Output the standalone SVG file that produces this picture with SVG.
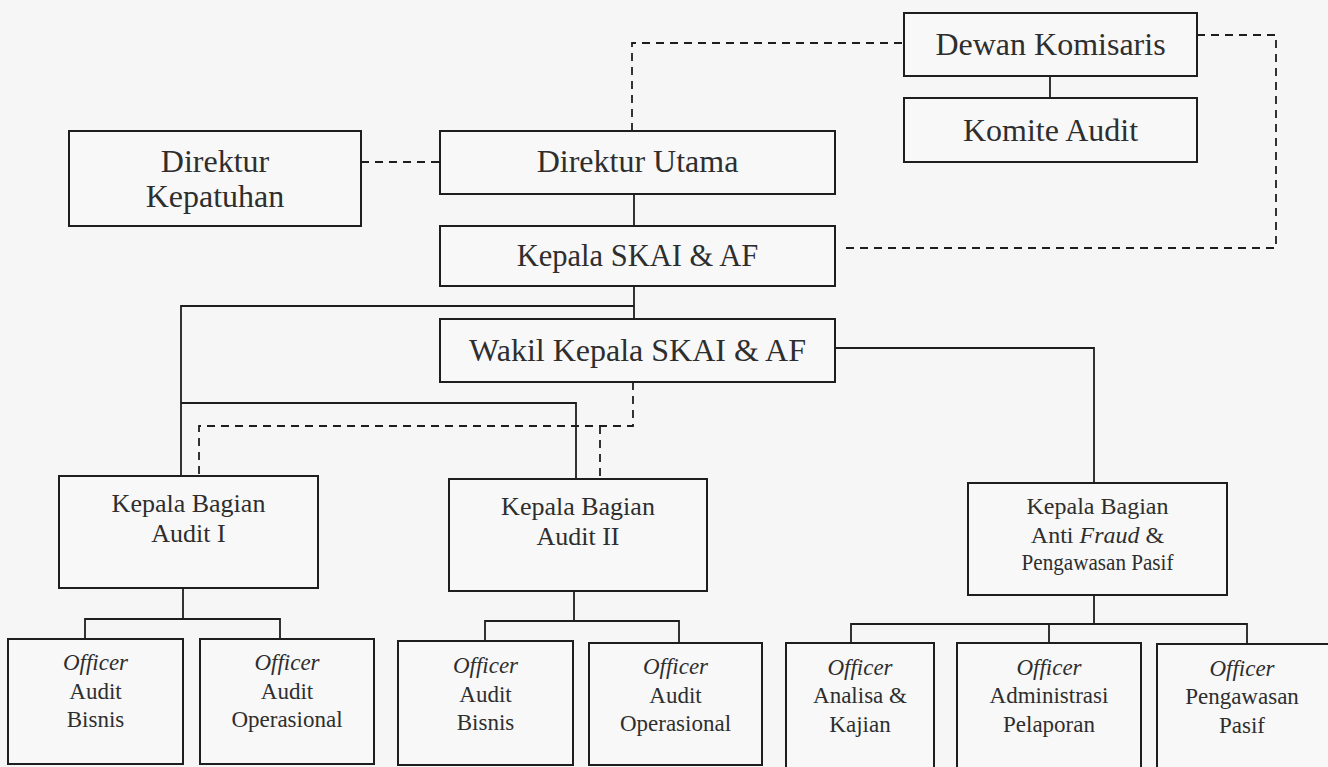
<svg xmlns="http://www.w3.org/2000/svg" width="1328" height="767" viewBox="0 0 1328 767" font-family="'Liberation Serif', 'DejaVu Serif', serif">
<style>
.bg{fill:#f6f6f6}
.box{fill:#f8f8f8;stroke:#1e1e1e;stroke-width:2}
.ln{fill:none;stroke:#1e1e1e;stroke-width:1.8}
.dl{fill:none;stroke:#1e1e1e;stroke-width:1.8;stroke-dasharray:8 6}
text{font-family:"Liberation Serif","DejaVu Serif",serif;fill:#2e2e2e;text-anchor:middle}
.t1{font-size:32px}
.t2{font-size:26px}
.t3{font-size:24px}
.t4{font-size:23px}
.it{font-style:italic}
</style>
<rect class="bg" x="0" y="0" width="1328" height="767"/>
<g id="connectors">
<line class="ln" x1="1050" y1="76" x2="1050" y2="98"/>
<line class="ln" x1="634" y1="194" x2="634" y2="226"/>
<line class="ln" x1="634" y1="286" x2="634" y2="319"/>
<polyline class="ln" points="634,306 181,306 181,476"/>
<polyline class="ln" points="181,403 576,403 576,479"/>
<polyline class="ln" points="835,348 1094,348 1094,483"/>
<line class="ln" x1="183" y1="588" x2="183" y2="619"/>
<polyline class="ln" points="85,639 85,619 280,619 280,639"/>
<line class="ln" x1="574" y1="591" x2="574" y2="621"/>
<polyline class="ln" points="485,641 485,621 679,621 679,643"/>
<line class="ln" x1="1094" y1="595" x2="1094" y2="624"/>
<polyline class="ln" points="851,643 851,624 1247,624 1247,644"/>
<line class="ln" x1="1049" y1="624" x2="1049" y2="643"/>
<line class="dl" x1="361" y1="162" x2="440" y2="162"/>
<polyline class="dl" points="632,131 632,43 904,43"/>
<polyline class="dl" points="1197,35 1276,35 1276,248 840,248"/>
<polyline class="dl" points="633,382 633,426 199,426 199,476"/>
<line class="dl" x1="600" y1="426" x2="600" y2="479"/>
</g>
<g id="dewan-komisaris"><rect class="box" x="904" y="13" width="293" height="63"/><text class="t1" x="1050.5" y="55">Dewan Komisaris</text></g>
<g id="komite-audit"><rect class="box" x="904" y="98" width="293" height="64"/><text class="t1" x="1050.5" y="141">Komite Audit</text></g>
<g id="direktur-kepatuhan"><rect class="box" x="69" y="131" width="292" height="95"/><text class="t1" x="215" y="172">Direktur</text><text class="t1" x="215" y="207">Kepatuhan</text></g>
<g id="direktur-utama"><rect class="box" x="440" y="131" width="395" height="63"/><text class="t1" x="637.5" y="172">Direktur Utama</text></g>
<g id="kepala-skai"><rect class="box" x="440" y="226" width="395" height="60"/><text class="t1" x="637.5" y="266" style="font-size:30.5px">Kepala SKAI &amp; AF</text></g>
<g id="wakil-kepala-skai"><rect class="box" x="440" y="319" width="395" height="63"/><text class="t1" x="637.5" y="361">Wakil Kepala SKAI &amp; AF</text></g>
<g id="kabag-audit-1"><rect class="box" x="59" y="476" width="259" height="112"/><text class="t2" x="188.5" y="512">Kepala Bagian</text><text class="t2" x="188.5" y="542">Audit I</text></g>
<g id="kabag-audit-2"><rect class="box" x="449" y="479" width="258" height="112"/><text class="t2" x="578" y="515">Kepala Bagian</text><text class="t2" x="578" y="545">Audit II</text></g>
<g id="kabag-anti-fraud"><rect class="box" x="968" y="483" width="259" height="112"/><text class="t3" x="1097.5" y="514">Kepala Bagian</text><text class="t3" x="1097.5" y="543">Anti <tspan class="it">Fraud</tspan> &amp;</text><text class="t3" x="1097.5" y="570" textLength="152" lengthAdjust="spacingAndGlyphs">Pengawasan Pasif</text></g>
<g id="officer-audit-bisnis-1"><rect class="box" x="8" y="639" width="175" height="125"/><text class="t4 it" x="95.5" y="670">Officer</text><text class="t4" x="95.5" y="699">Audit</text><text class="t4" x="95.5" y="727">Bisnis</text></g>
<g id="officer-audit-operasional-1"><rect class="box" x="200" y="639" width="174" height="125"/><text class="t4 it" x="287" y="670">Officer</text><text class="t4" x="287" y="699">Audit</text><text class="t4" x="287" y="727">Operasional</text></g>
<g id="officer-audit-bisnis-2"><rect class="box" x="398" y="641" width="175" height="124"/><text class="t4 it" x="485.5" y="673">Officer</text><text class="t4" x="485.5" y="702">Audit</text><text class="t4" x="485.5" y="730">Bisnis</text></g>
<g id="officer-audit-operasional-2"><rect class="box" x="589" y="643" width="173" height="122"/><text class="t4 it" x="675.5" y="674">Officer</text><text class="t4" x="675.5" y="703">Audit</text><text class="t4" x="675.5" y="731">Operasional</text></g>
<g id="officer-analisa-kajian"><rect class="box" x="786" y="643" width="148" height="130"/><text class="t4 it" x="860" y="675">Officer</text><text class="t4" x="860" y="703">Analisa &amp;</text><text class="t4" x="860" y="732">Kajian</text></g>
<g id="officer-administrasi-pelaporan"><rect class="box" x="957" y="643" width="184" height="130"/><text class="t4 it" x="1049" y="675">Officer</text><text class="t4" x="1049" y="703">Administrasi</text><text class="t4" x="1049" y="732">Pelaporan</text></g>
<g id="officer-pengawasan-pasif"><rect class="box" x="1157" y="644" width="175" height="130"/><text class="t4 it" x="1242" y="676">Officer</text><text class="t4" x="1242" y="704">Pengawasan</text><text class="t4" x="1242" y="733">Pasif</text></g>
</svg>
